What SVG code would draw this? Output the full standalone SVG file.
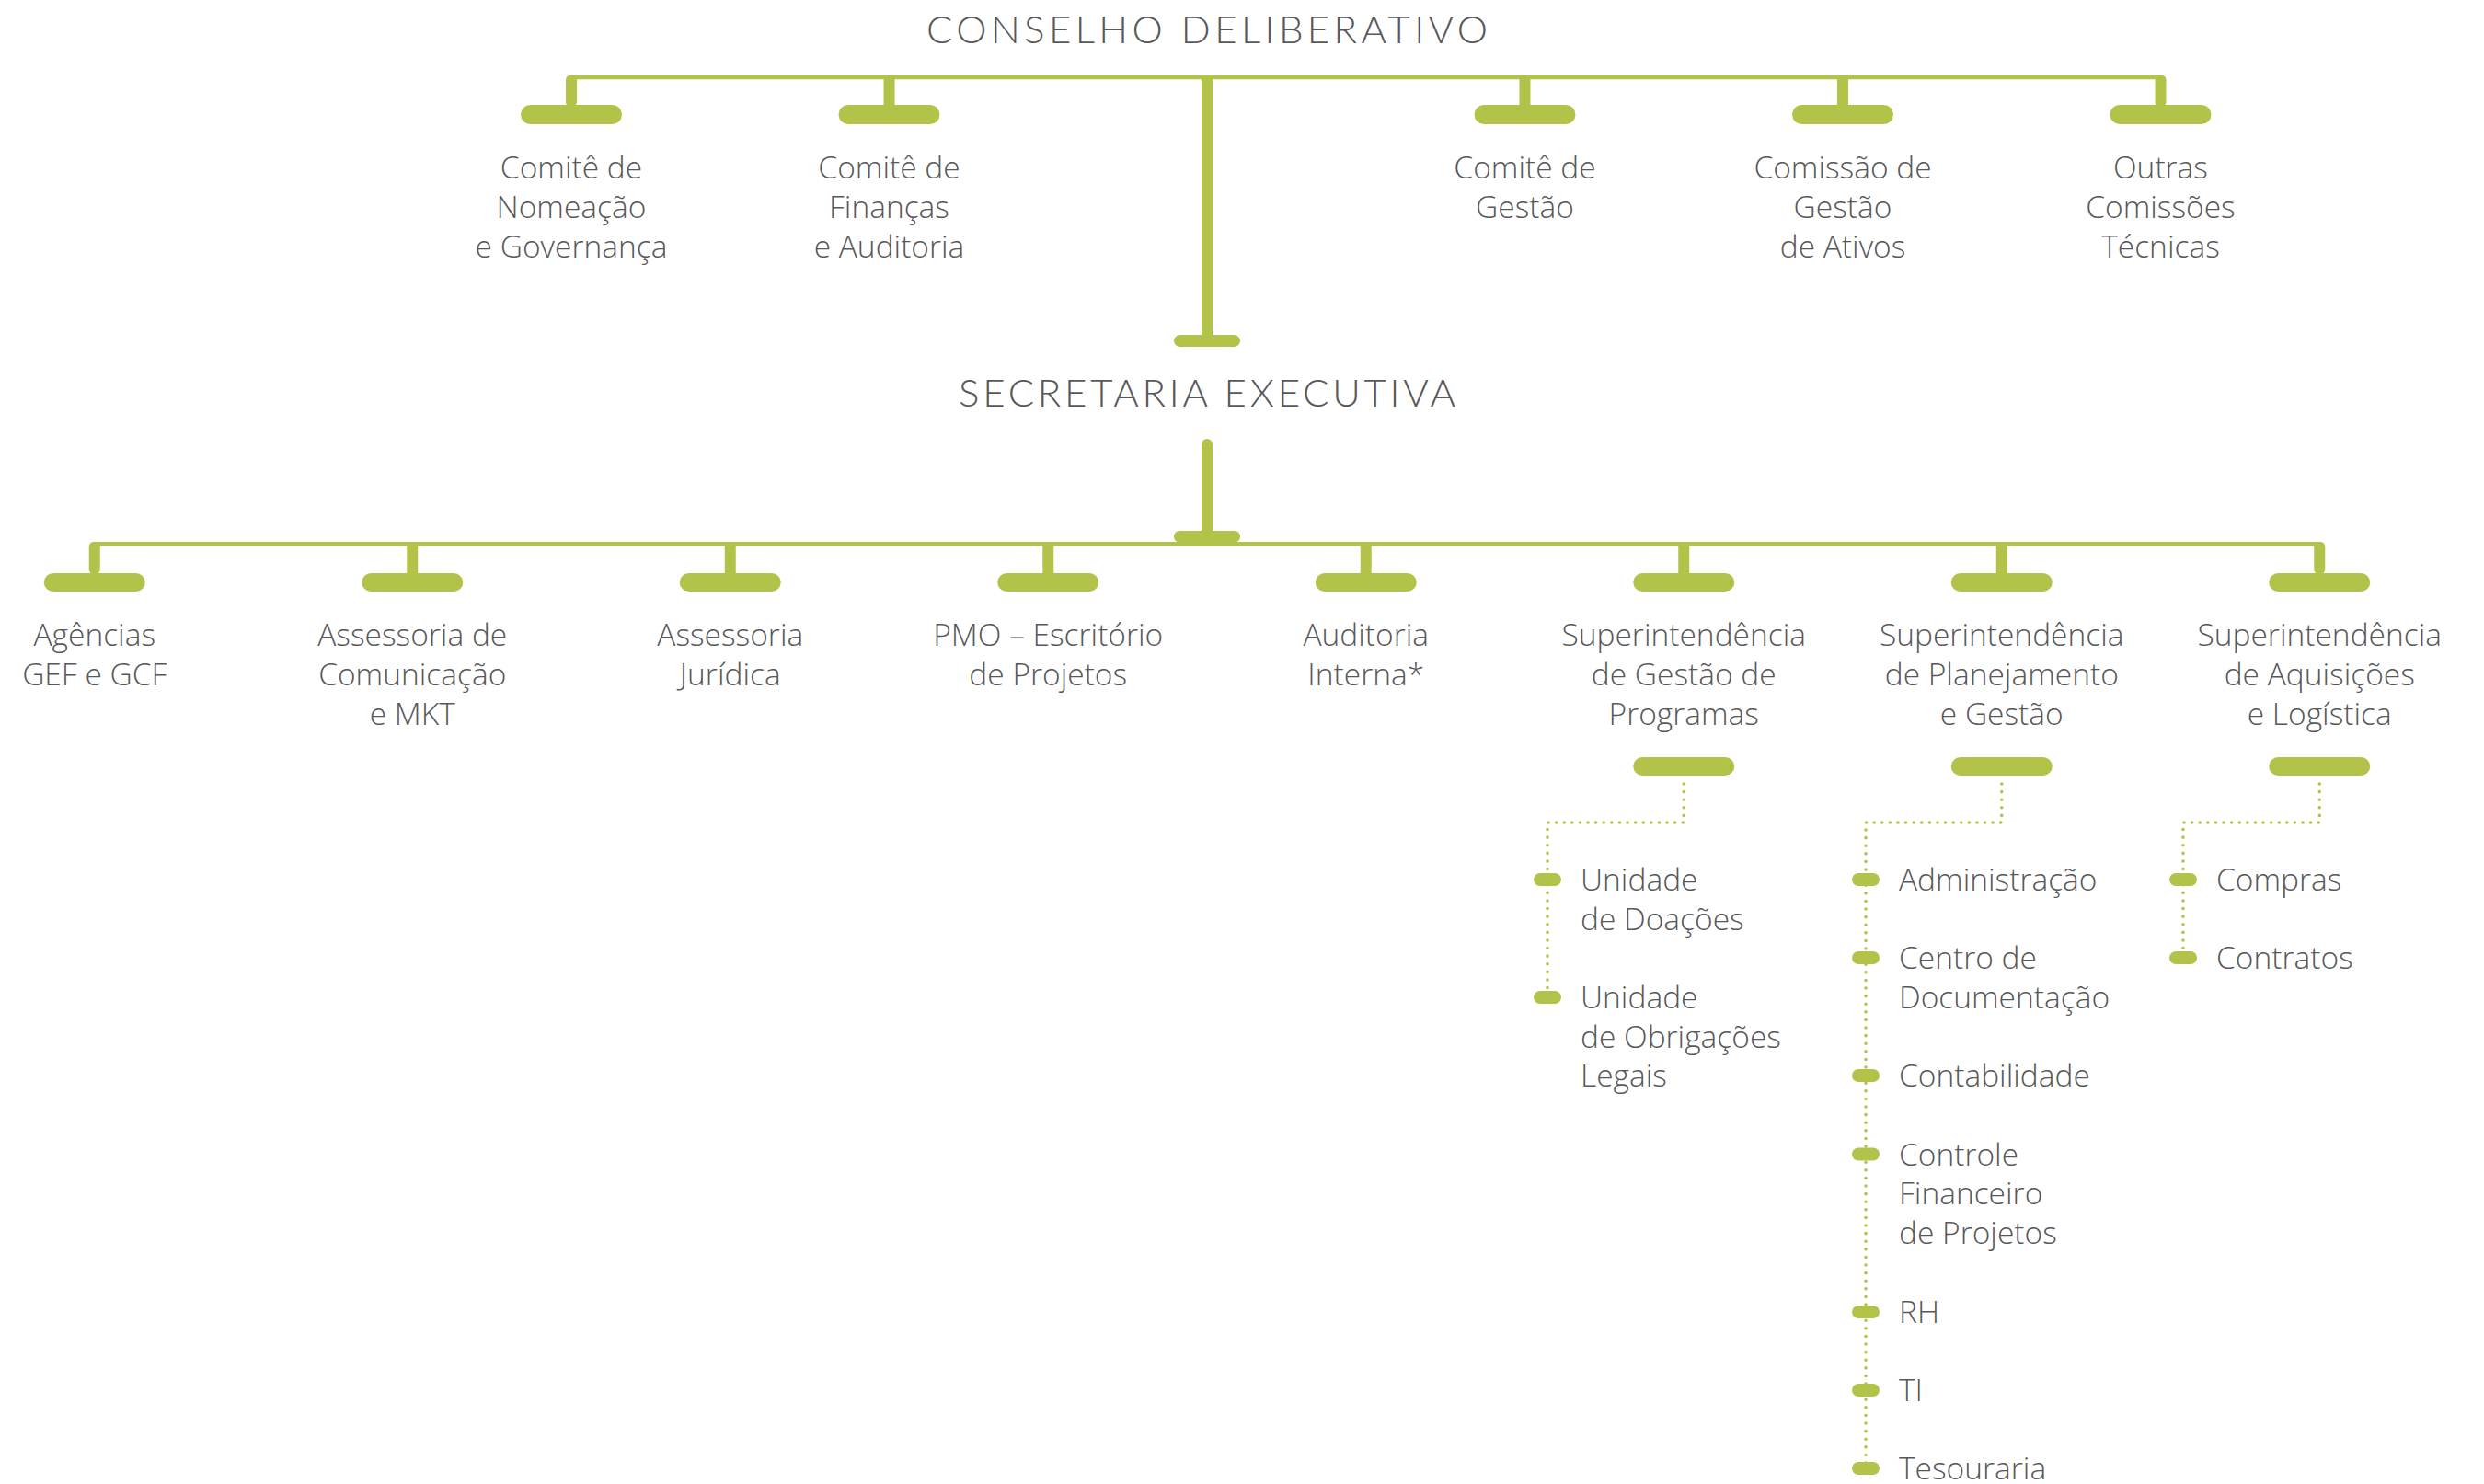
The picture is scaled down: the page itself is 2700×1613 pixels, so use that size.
<svg xmlns="http://www.w3.org/2000/svg" width="2700" height="1613" viewBox="0 0 2700 1613">
<style>
.g{fill:#b3c34a}
.ln{fill:none;stroke:#b3c34a;stroke-width:4.5}
.dot{fill:none;stroke:#b3c34a;stroke-width:3.6;stroke-linecap:round;stroke-dasharray:0 8.6}
.t{font-family:"Open Sans","Noto Sans","Liberation Sans",sans-serif;font-weight:300;font-size:33.5px;fill:#58585a;text-anchor:middle}
.s{font-family:"Open Sans","Noto Sans","Liberation Sans",sans-serif;font-weight:300;font-size:33.5px;fill:#58585a}
.h{font-family:"Lato","Open Sans","Liberation Sans",sans-serif;font-weight:300;font-size:42px;fill:#58585a;text-anchor:middle}
</style>
<rect width="2700" height="1613" fill="#fff"/>
<g id="connectors">
  <path class="ln" d="M621 84 H2348.5"/>
  <rect class="g" x="615" y="81.75" width="12" height="34" rx="5"/>
  <rect class="g" x="960.5" y="84" width="12" height="31"/>
  <rect class="g" x="1651.5" y="84" width="12" height="31"/>
  <rect class="g" x="1997" y="84" width="12" height="31"/>
  <rect class="g" x="2342.5" y="81.75" width="12" height="34" rx="5"/>
  <rect class="g" x="1306" y="82" width="12" height="288"/>
  <rect class="g" x="1306" y="477" width="12" height="106" rx="6"/>
  <path class="ln" d="M102.75 591.3 H2521.25"/>
  <rect class="g" x="96.75" y="589" width="12" height="35" rx="5"/>
  <rect class="g" x="442.25" y="591" width="12" height="33"/>
  <rect class="g" x="787.75" y="591" width="12" height="33"/>
  <rect class="g" x="1133.25" y="591" width="12" height="33"/>
  <rect class="g" x="1478.75" y="591" width="12" height="33"/>
  <rect class="g" x="1824.25" y="591" width="12" height="33"/>
  <rect class="g" x="2169.75" y="591" width="12" height="33"/>
  <rect class="g" x="2515.25" y="589" width="12" height="35" rx="5"/>
  <path class="dot" d="M1830.25 852 V894 H1682 V1084"/>
  <path class="dot" d="M2175.75 852 V894 H2028 V1596"/>
  <path class="dot" d="M2521.25 852 V894 H2373 V1041"/>
</g>
<g id="conselho">
  <text class="h" x="1312" y="47" textLength="610" lengthAdjust="spacing">CONSELHO DELIBERATIVO</text>
  <rect class="g" x="1276" y="364" width="72" height="13" rx="6.5"/>
</g>
<g id="comite-nomeacao">
  <rect class="g" x="566" y="114" width="110" height="21" rx="10.5"/>
  <text class="t"><tspan x="621" y="194">Comitê de</tspan><tspan x="621" y="237">Nomeação</tspan><tspan x="621" y="279.5">e Governança</tspan></text>
</g>
<g id="comite-financas">
  <rect class="g" x="911.5" y="114" width="110" height="21" rx="10.5"/>
  <text class="t"><tspan x="966.5" y="194">Comitê de</tspan><tspan x="966.5" y="237">Finanças</tspan><tspan x="966.5" y="279.5">e Auditoria</tspan></text>
</g>
<g id="comite-gestao">
  <rect class="g" x="1602.5" y="114" width="110" height="21" rx="10.5"/>
  <text class="t"><tspan x="1657.5" y="194">Comitê de</tspan><tspan x="1657.5" y="237">Gestão</tspan></text>
</g>
<g id="comissao-ativos">
  <rect class="g" x="1948" y="114" width="110" height="21" rx="10.5"/>
  <text class="t"><tspan x="2003" y="194">Comissão de</tspan><tspan x="2003" y="237">Gestão</tspan><tspan x="2003" y="279.5">de Ativos</tspan></text>
</g>
<g id="outras-comissoes">
  <rect class="g" x="2293.5" y="114" width="110" height="21" rx="10.5"/>
  <text class="t"><tspan x="2348.5" y="194">Outras</tspan><tspan x="2348.5" y="237">Comissões</tspan><tspan x="2348.5" y="279.5">Técnicas</tspan></text>
</g>
<g id="secretaria">
  <text class="h" x="1312" y="442" textLength="540" lengthAdjust="spacing">SECRETARIA EXECUTIVA</text>
  <rect class="g" x="1276" y="577" width="72" height="12.5" rx="6.25"/>
</g>
<g id="agencias">
  <rect class="g" x="47.75" y="623" width="110" height="20" rx="10"/>
  <text class="t"><tspan x="102.75" y="702">Agências</tspan><tspan x="102.75" y="745">GEF e GCF</tspan></text>
</g>
<g id="assessoria-comunicacao">
  <rect class="g" x="393.25" y="623" width="110" height="20" rx="10"/>
  <text class="t"><tspan x="448.25" y="702">Assessoria de</tspan><tspan x="448.25" y="745">Comunicação</tspan><tspan x="448.25" y="788">e MKT</tspan></text>
</g>
<g id="assessoria-juridica">
  <rect class="g" x="738.75" y="623" width="110" height="20" rx="10"/>
  <text class="t"><tspan x="793.75" y="702">Assessoria</tspan><tspan x="793.75" y="745">Jurídica</tspan></text>
</g>
<g id="pmo">
  <rect class="g" x="1084.25" y="623" width="110" height="20" rx="10"/>
  <text class="t"><tspan x="1139.25" y="702">PMO – Escritório</tspan><tspan x="1139.25" y="745">de Projetos</tspan></text>
</g>
<g id="auditoria-interna">
  <rect class="g" x="1429.75" y="623" width="110" height="20" rx="10"/>
  <text class="t"><tspan x="1484.75" y="702">Auditoria</tspan><tspan x="1484.75" y="745">Interna*</tspan></text>
</g>
<g id="sup-programas">
  <rect class="g" x="1775.25" y="623" width="110" height="20" rx="10"/>
  <text class="t"><tspan x="1830.25" y="702">Superintendência</tspan><tspan x="1830.25" y="745">de Gestão de</tspan><tspan x="1830.25" y="788">Programas</tspan></text>
  <rect class="g" x="1775.25" y="823" width="110" height="20" rx="10"/>
</g>
<g id="sup-planejamento">
  <rect class="g" x="2120.75" y="623" width="110" height="20" rx="10"/>
  <text class="t"><tspan x="2175.75" y="702">Superintendência</tspan><tspan x="2175.75" y="745">de Planejamento</tspan><tspan x="2175.75" y="788">e Gestão</tspan></text>
  <rect class="g" x="2120.75" y="823" width="110" height="20" rx="10"/>
</g>
<g id="sup-aquisicoes">
  <rect class="g" x="2466.25" y="623" width="110" height="20" rx="10"/>
  <text class="t"><tspan x="2521.25" y="702">Superintendência</tspan><tspan x="2521.25" y="745">de Aquisições</tspan><tspan x="2521.25" y="788">e Logística</tspan></text>
  <rect class="g" x="2466.25" y="823" width="110" height="20" rx="10"/>
</g>
<g id="unidade-doacoes">
  <rect class="g" x="1667" y="949" width="30" height="14" rx="7"/>
  <text class="s"><tspan x="1718" y="968">Unidade</tspan><tspan x="1718" y="1010.6">de Doações</tspan></text>
</g>
<g id="unidade-obrigacoes">
  <rect class="g" x="1667" y="1077" width="30" height="14" rx="7"/>
  <text class="s"><tspan x="1718" y="1096">Unidade</tspan><tspan x="1718" y="1138.6">de Obrigações</tspan><tspan x="1718" y="1181.2">Legais</tspan></text>
</g>
<g id="administracao">
  <rect class="g" x="2013" y="949" width="30" height="14" rx="7"/>
  <text class="s" x="2064" y="968">Administração</text>
</g>
<g id="centro-documentacao">
  <rect class="g" x="2013" y="1034" width="30" height="14" rx="7"/>
  <text class="s"><tspan x="2064" y="1053">Centro de</tspan><tspan x="2064" y="1095.6">Documentação</tspan></text>
</g>
<g id="contabilidade">
  <rect class="g" x="2013" y="1162" width="30" height="14" rx="7"/>
  <text class="s" x="2064" y="1181">Contabilidade</text>
</g>
<g id="controle-financeiro">
  <rect class="g" x="2013" y="1247.5" width="30" height="14" rx="7"/>
  <text class="s"><tspan x="2064" y="1266.5">Controle</tspan><tspan x="2064" y="1309">Financeiro</tspan><tspan x="2064" y="1351.6">de Projetos</tspan></text>
</g>
<g id="rh">
  <rect class="g" x="2013" y="1419" width="30" height="14" rx="7"/>
  <text class="s" x="2064" y="1438">RH</text>
</g>
<g id="ti">
  <rect class="g" x="2013" y="1504" width="30" height="14" rx="7"/>
  <text class="s" x="2064" y="1523">TI</text>
</g>
<g id="tesouraria">
  <rect class="g" x="2013" y="1589" width="30" height="14" rx="7"/>
  <text class="s" x="2064" y="1608">Tesouraria</text>
</g>
<g id="compras">
  <rect class="g" x="2358" y="949" width="30" height="14" rx="7"/>
  <text class="s" x="2409" y="968">Compras</text>
</g>
<g id="contratos">
  <rect class="g" x="2358" y="1034" width="30" height="14" rx="7"/>
  <text class="s" x="2409" y="1053">Contratos</text>
</g>
</svg>
